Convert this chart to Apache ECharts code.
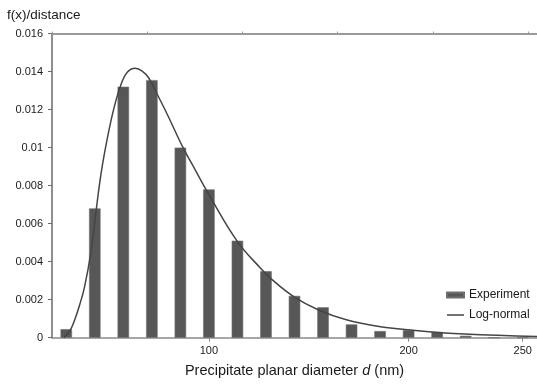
<!DOCTYPE html>
<html>
<head>
<meta charset="utf-8">
<script src="https://cdn.jsdelivr.net/npm/echarts@6/dist/echarts.min.js"></script>
<style>
  html, body { margin: 0; padding: 0; background: #ffffff; }
  #chart { width: 537px; height: 385px; }
</style>
</head>
<body>
<div id="chart"></div>
<script>
// Histogram bins (one per bar) and the tick labels shown under some of them
const binIds = ['b1', 'b2', 'b3', 'b4', 'b5', 'b6', 'b7', 'b8', 'b9', 'b10', 'b11', 'b12', 'b13', 'b14', 'b15', 'b16', 'b17'];
const binTickLabels = ['', '', '', '', '', '100', '', '', '', '', '', '', '200', '', '', '', '250'];

// Measured size distribution, f(x)/distance per bin
const experiment = [0.00045, 0.0068, 0.0132, 0.01355, 0.0100, 0.0078, 0.0051, 0.0035, 0.0022, 0.0016, 0.0007, 0.00035, 0.0004, 0.0003, 0.0001, 0, 0];

// Fitted log-normal curve, sampled along the secondary (top) x axis
const fitX = [6.2, 9.3, 11.9, 14.5, 17.1, 20.6, 23.2, 25.8, 29.2, 32.7, 36.2, 39.4, 43.8, 47.2, 50.8, 56.0, 61.2, 68.9, 75.2, 81.9, 97.5, 109.4, 115.7, 127.1, 140.0, 154.6, 170.1, 190.9, 216.8, 254.7];
const fitY = [0, 0.00035, 0.00093, 0.00172, 0.00267, 0.00461, 0.00671, 0.00866, 0.01056, 0.01214, 0.0133, 0.01395, 0.01417, 0.01403, 0.01366, 0.01266, 0.01161, 0.00998, 0.00883, 0.00762, 0.00504, 0.00367, 0.00304, 0.00215, 0.00146, 0.00094, 0.00062, 0.00038, 0.00019, 0.00006];

const yTickLabels = ['0', '0.002', '0.004', '0.006', '0.008', '0.01', '0.012', '0.014', '0.016'];

const FONT = '"Liberation Sans", Arial, sans-serif';
const showLabel = function (idx) { return binTickLabels[idx] !== ''; };

const chart = echarts.init(document.getElementById('chart'), null, { renderer: 'canvas' });

chart.setOption({
  animation: false,
  backgroundColor: '#ffffff',
  textStyle: { fontFamily: FONT },
  title: {
    text: 'f(x)/distance',
    left: 2,
    top: 3,
    textStyle: { fontFamily: FONT, fontSize: 13.5, fontWeight: 'normal', color: '#1a1a1a' }
  },
  legend: {
    orient: 'vertical',
    left: 441,
    top: 283,
    itemWidth: 17,
    itemHeight: 5,
    itemGap: 6,
    symbolKeepAspect: true,
    textStyle: { fontFamily: FONT, fontSize: 12, color: '#1a1a1a', lineHeight: 14 },
    data: [
      { name: 'Experiment', icon: 'rect' },
      { name: 'Log-normal', icon: 'path://M0,0 L34,0 L34,3 L0,3 Z' }
    ]
  },
  grid: { left: 52, top: 33.5, width: 491, height: 304.2, containLabel: false },
  xAxis: [
    {
      type: 'category',
      data: binIds,
      position: 'bottom',
      boundaryGap: true,
      axisLine: { lineStyle: { color: '#8a8a8a', width: 1.6 } },
      axisTick: { show: true, alignWithLabel: true, interval: showLabel, length: 4, lineStyle: { color: '#8a8a8a' } },
      axisLabel: {
        interval: showLabel,
        formatter: function (v, idx) { return binTickLabels[idx]; },
        fontFamily: FONT, fontSize: 11, color: '#1a1a1a', margin: 8
      },
      name: '{n|Precipitate planar diameter }{i|d}{n| (nm)}',
      nameLocation: 'middle',
      nameGap: 26,
      nameTextStyle: {
        rich: {
          n: { fontFamily: FONT, fontSize: 14.5, color: '#1a1a1a' },
          i: { fontFamily: FONT, fontSize: 14.5, fontStyle: 'italic', color: '#1a1a1a' }
        }
      }
    },
    {
      type: 'value',
      position: 'top',
      min: 0,
      max: 254.7,
      interval: 50,
      axisLine: { show: true, lineStyle: { color: '#9a9a9a', width: 2 } },
      axisTick: { show: true, length: 2, lineStyle: { color: '#9a9a9a' } },
      axisLabel: { show: false },
      splitLine: { show: false }
    }
  ],
  yAxis: {
    type: 'value',
    min: 0,
    max: 0.016,
    interval: 0.002,
    axisLine: { show: true, lineStyle: { color: '#6a6a6a', width: 1.5 } },
    axisTick: { show: true, length: 4, lineStyle: { color: '#6a6a6a' } },
    axisLabel: {
      formatter: function (v) { return yTickLabels[Math.round(v / 0.002)]; },
      fontFamily: FONT, fontSize: 11, color: '#1a1a1a', margin: 9
    },
    splitLine: { show: false }
  },
  series: [
    {
      name: 'Experiment',
      type: 'bar',
      xAxisIndex: 0,
      data: experiment,
      barWidth: 11.5,
      itemStyle: { color: '#575757', borderColor: '#6e6e6e', borderWidth: 0.6 }
    },
    {
      name: 'Log-normal',
      type: 'line',
      xAxisIndex: 1,
      data: fitX.map(function (x, i) { return [x, fitY[i]]; }),
      smooth: 0.4,
      symbol: 'none',
      showSymbol: false,
      clip: true,
      z: 5,
      lineStyle: { color: '#454545', width: 1.5 },
      itemStyle: { color: '#454545' }
    }
  ]
});
</script>
</body>
</html>
